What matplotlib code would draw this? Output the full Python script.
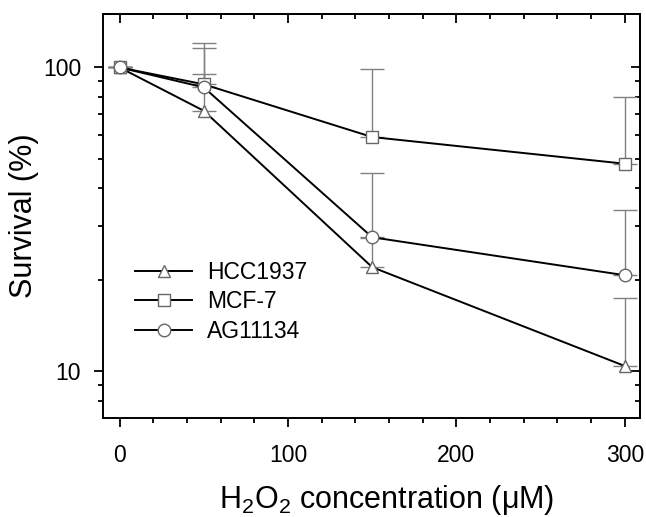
import matplotlib
matplotlib.use("Agg")
import matplotlib.pyplot as plt
from matplotlib.ticker import FixedLocator, NullFormatter, MultipleLocator

plt.rcParams['font.family'] = ['Liberation Sans', 'DejaVu Sans']
plt.rcParams['mathtext.fontset'] = 'custom'
plt.rcParams['mathtext.rm'] = 'Liberation Sans'
plt.rcParams['mathtext.it'] = 'Liberation Sans:italic'
plt.rcParams['mathtext.default'] = 'rm'

# data
conc = [0, 50, 150, 300]
names = ["HCC1937", "MCF-7", "AG11134"]
hcc = [100, 72, 22, 10.4]
hcc_err = [0, 23, 5.5, 7.0]
mcf = [100, 88, 59, 48.2]
mcf_err = [0, 32, 40, 31.7]
ag = [100, 86, 27.6, 20.7]
ag_err = [0, 30, 17.4, 13.2]

series = [(hcc, hcc_err, '^', 9), (mcf, mcf_err, 's', 8), (ag, ag_err, 'o', 9)]

fig = plt.figure(figsize=(6.46, 5.17), dpi=100)
ax = fig.add_axes([0.159, 0.191, 0.8317, 0.782])

# error bars (upper only) under everything
for vals, err, mk, ms in series:
    ax.errorbar(conc, vals, yerr=[[0]*len(err), err], fmt='none', ecolor='0.5',
                elinewidth=1.0, capsize=8.5, capthick=1.0, zorder=1)

for (vals, err, mk, ms), name in zip(series, names):
    ax.plot(conc, vals, color='black', lw=1.4, marker=mk, ms=ms,
            mfc='white', mec='0.4', mew=1.0, label=name, zorder=3)

ax.set_yscale('log')
ax.set_xlim(-10, 309)
ax.set_ylim(7, 150)

ax.set_yticks([10, 100])
ax.set_yticklabels(['10', '100'])
ax.yaxis.set_minor_locator(FixedLocator([8, 9, 20, 30, 40, 50, 60, 70, 80, 90]))
ax.yaxis.set_minor_formatter(NullFormatter())
ax.set_xticks([0, 100, 200, 300])
ax.xaxis.set_minor_locator(MultipleLocator(20))

ax.tick_params(which='both', direction='out', width=1.3, labelsize=16.5,
               top=False, right=False)
ax.tick_params(which='major', length=6.5)
ax.tick_params(which='minor', length=3.6)
ax.tick_params(axis='x', which='major', pad=12)
ax.tick_params(axis='y', which='major', pad=9)

# inward ticks on top and right
secx = ax.secondary_xaxis('top')
secx.set_xticks([0, 100, 200, 300])
secx.xaxis.set_minor_locator(MultipleLocator(20))
secx.tick_params(which='both', direction='in', width=1.3, labeltop=False)
secx.tick_params(which='major', length=6.5)
secx.tick_params(which='minor', length=3.6)
secx.spines['top'].set_linewidth(1.4)

secy = ax.secondary_yaxis('right')
secy.set_yticks([10, 100])
secy.yaxis.set_minor_locator(FixedLocator([8, 9, 20, 30, 40, 50, 60, 70, 80, 90]))
secy.yaxis.set_minor_formatter(NullFormatter())
secy.tick_params(which='both', direction='in', width=1.3, labelright=False)
secy.tick_params(which='major', length=6.5)
secy.tick_params(which='minor', length=3.6)
secy.spines['right'].set_linewidth(1.4)

for s in ax.spines.values():
    s.set_linewidth(1.4)

ax.set_xlabel(r'H$_2$O$_2$ concentration ($\mathrm{\mu}$M)', fontsize=22, labelpad=8)
ax.xaxis.set_label_coords(0.5286, -0.16)
ax.set_ylabel('Survival (%)', fontsize=22, labelpad=3)

ax.legend(loc='upper left', bbox_to_anchor=(0.06, 0.39), frameon=False,
          fontsize=16.5, handlelength=2.5, handletextpad=0.65,
          labelspacing=0.3, borderpad=0, borderaxespad=0)

fig.savefig('out.png', dpi=100)
